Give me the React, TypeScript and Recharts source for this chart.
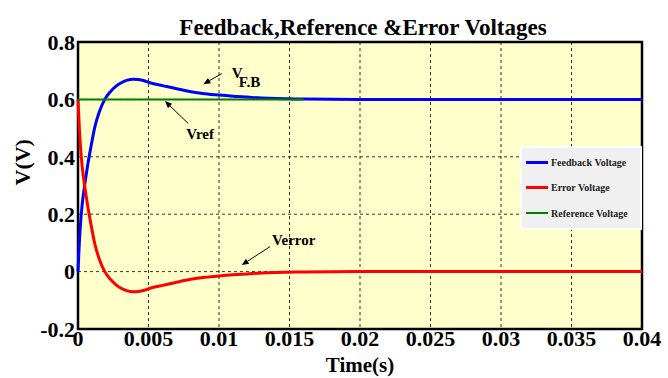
import React from 'react';
import { LineChart, Line, XAxis, YAxis, CartesianGrid, ReferenceArea, ReferenceLine } from 'recharts';

const time = [0, 0.0001, 0.0002, 0.0003, 0.0005, 0.0007, 0.0009, 0.0012, 0.0015, 0.0019, 0.0023, 0.0027, 0.0031, 0.0035, 0.0039, 0.0043, 0.0047, 0.0051, 0.006, 0.007, 0.008, 0.009, 0.010, 0.011, 0.012, 0.013, 0.014, 0.015, 0.016, 0.02, 0.025, 0.03, 0.035, 0.04];
const feedback = [0, 0.105, 0.18, 0.235, 0.31, 0.375, 0.43, 0.505, 0.555, 0.6, 0.627, 0.646, 0.659, 0.667, 0.67, 0.669, 0.665, 0.658, 0.648, 0.637, 0.627, 0.62, 0.615, 0.611, 0.608, 0.605, 0.603, 0.602, 0.601, 0.6, 0.6, 0.6, 0.6, 0.6];
const error = [0.6, 0.495, 0.42, 0.365, 0.29, 0.225, 0.17, 0.095, 0.045, 0, -0.027, -0.046, -0.059, -0.067, -0.07, -0.069, -0.065, -0.058, -0.048, -0.037, -0.027, -0.02, -0.015, -0.011, -0.008, -0.005, -0.003, -0.002, -0.001, 0, 0, 0, 0, 0];
const reference = [0.6, 0.6, 0.6, 0.6, 0.6, 0.6, 0.6, 0.6, 0.6, 0.6, 0.6, 0.6, 0.6, 0.6, 0.6, 0.6, 0.6, 0.6, 0.6, 0.6, 0.6, 0.6, 0.6, 0.6, 0.6, 0.6, 0.6, 0.6, 0.6];

const xTicks = [0, 0.005, 0.01, 0.015, 0.02, 0.025, 0.03, 0.035, 0.04];
const yTicks = [-0.2, 0, 0.2, 0.4, 0.6, 0.8];

const seriesNames = ['Feedback Voltage', 'Error Voltage', 'Reference Voltage'];
const seriesColors = ['#0000FF', '#FF0000', '#007F00'];
const seriesWidths = [3, 3, 1.5];

// annotation arrows: tail -> head (data coords), label text
const annotations = [
  { tail: { x: 0.0102, y: 0.69 }, head: { x: 0.00889, y: 0.653 }, text: 'V', sub: 'F.B', dx: 10, dy: 4 },
  { tail: { x: 0.00782, y: 0.516 }, head: { x: 0.00617, y: 0.594 }, text: 'Vref', sub: '', dx: -2, dy: 15 },
  { tail: { x: 0.01362, y: 0.087 }, head: { x: 0.01161, y: 0.023 }, text: 'Verror', sub: '', dx: 2, dy: -2 },
];

const data = time.map((t, i) => ({
  t,
  fb: feedback[i],
  err: error[i],
  ref: i < reference.length ? reference[i] : null,
}));

const FONT = '"Liberation Serif", "Times New Roman", serif';

function makeArrow(a: typeof annotations[number]) {
  return (p: any) => {
    const { x1, y1, x2, y2 } = p;
    const ang = Math.atan2(y2 - y1, x2 - x1);
    const L = 7, W = 3;
    const bx = x2 - L * Math.cos(ang), by = y2 - L * Math.sin(ang);
    const px = -Math.sin(ang) * W, py = Math.cos(ang) * W;
    return (
      <g>
        <line x1={x1} y1={y1} x2={bx} y2={by} stroke="#000" strokeWidth={1} />
        <polygon points={`${x2},${y2} ${bx + px},${by + py} ${bx - px},${by - py}`} fill="#000" />
        <text x={x1 + a.dx} y={y1 + a.dy} fontFamily={FONT} fontWeight="bold" fontSize={15} fill="#000">{a.text}</text>
        {a.sub ? (
          <text x={x1 + a.dx + 7} y={y1 + a.dy + 9} fontFamily={FONT} fontWeight="bold" fontSize={15} fill="#000">{a.sub}</text>
        ) : null}
      </g>
    );
  };
}

const LegendBox = () => (
  <div style={{ position: 'absolute', left: 520, top: 146, width: 122, height: 84, boxSizing: 'border-box', background: '#F0F0F0', border: '2px solid #fff', fontFamily: FONT }}>
    {seriesNames.map((n, i) => (
      <div key={n} style={{ position: 'absolute', left: 4, top: 14 + i * 25.5 - 8, height: 16, display: 'flex', alignItems: 'center' }}>
        <div style={{ width: 22, height: seriesWidths[i], background: seriesColors[i], marginRight: 3 }} />
        <span style={{ fontSize: 10, fontWeight: 'bold', color: '#222', whiteSpace: 'nowrap' }}>{n}</span>
      </div>
    ))}
  </div>
);

export default function App() {
  const tickStyle = { fill: '#000', fontSize: 22, fontWeight: 'bold', fontFamily: FONT };
  return (
    <div style={{ position: 'absolute', left: 0, top: 0, width: 668, height: 378, background: '#fff' }}>
      <div style={{ position: 'absolute', left: 81, top: 16, width: 564, textAlign: 'center', fontFamily: FONT, fontWeight: 'bold', fontSize: 23, lineHeight: '23px', color: '#000', whiteSpace: 'nowrap' }}>
        Feedback,Reference &amp;Error Voltages
      </div>
      <LineChart width={668} height={378} data={data} margin={{ top: 42, right: 26, bottom: 0, left: 0 }}>
        <CartesianGrid fill="#FFFFCC" fillOpacity={1} stroke="#000" strokeDasharray="3 3" strokeWidth={0.8} />
        <XAxis
          type="number"
          dataKey="t"
          domain={[0, 0.04]}
          ticks={xTicks}
          height={49}
          tickSize={0}
          tickMargin={1}
          axisLine={false}
          tick={tickStyle}
          interval={0}
          label={{ value: 'Time(s)', position: 'insideBottom', offset: 6, fill: '#000', fontSize: 21, fontWeight: 'bold', fontFamily: FONT }}
        />
        <YAxis
          type="number"
          domain={[-0.2, 0.8]}
          ticks={yTicks}
          width={78}
          tickSize={0}
          tickMargin={3}
          axisLine={false}
          tick={tickStyle}
          interval={0}
          label={{ value: 'V(V)', angle: -90, position: 'insideLeft', offset: 22, fill: '#000', fontSize: 22, fontWeight: 'bold', fontFamily: FONT }}
        />
        <Line type="monotone" dataKey="fb" name={seriesNames[0]} stroke={seriesColors[0]} strokeWidth={seriesWidths[0]} dot={false} isAnimationActive={false} />
        <Line type="monotone" dataKey="err" name={seriesNames[1]} stroke={seriesColors[1]} strokeWidth={seriesWidths[1]} dot={false} isAnimationActive={false} />
        <Line type="monotone" dataKey="ref" name={seriesNames[2]} stroke={seriesColors[2]} strokeWidth={2} dot={false} isAnimationActive={false} />
        <ReferenceArea x1={0} x2={0.04} y1={-0.2} y2={0.8} fill="none" stroke="#000" strokeWidth={2.5} ifOverflow="visible" />
        {annotations.map((a, i) => (
          <ReferenceLine key={i} segment={[a.tail, a.head]} ifOverflow="visible" shape={makeArrow(a)} />
        ))}
      </LineChart>
      <LegendBox />
    </div>
  );
}
